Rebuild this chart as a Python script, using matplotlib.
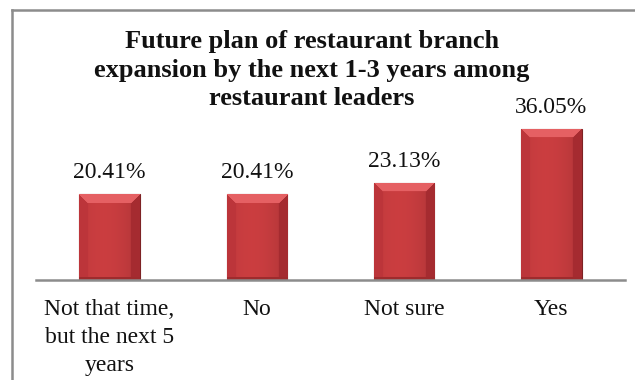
import numpy as np
import matplotlib
matplotlib.use("Agg")
import matplotlib.pyplot as plt
from matplotlib.lines import Line2D

categories = ["Not that time,\nbut the next 5\nyears", "No", "Not sure", "Yes"]
values = [20.41, 20.41, 23.13, 36.05]
value_labels = ["20.41%", "20.41%", "23.13%", "36.05%"]
title_lines = ["Future plan of restaurant branch",
               "expansion by the next 1-3 years among",
               "restaurant leaders"]

plt.rcParams["font.family"] = ["Liberation Serif", "DejaVu Serif"]

W, H = 635, 380
fig = plt.figure(figsize=(W / 100, H / 100), dpi=100)

# chart area frame (right and bottom fall outside the picture)
frame_kw = dict(color="#8c8c8c", linewidth=1.8, transform=fig.transFigure, clip_on=False)
fig.add_artist(Line2D([12 / W, 12 / W], [0, 1 - 10 / H], **frame_kw))
fig.add_artist(Line2D([12 / W, 1.0], [1 - 10 / H, 1 - 10 / H], **frame_kw))

ax_left, ax_right = 36 / W, 625 / W
ax_bottom = 1 - 280 / H
ax_h = 168 / H
ax = fig.add_axes([ax_left, ax_bottom, ax_right - ax_left, ax_h])
ax.set_xlim(-0.5, 3.5)
ax.set_ylim(0, 40)

x = np.arange(len(categories))
bars = ax.bar(x, values, width=0.41, color="#c63a3c", edgecolor="#7d2224",
              linewidth=0.8, zorder=2)

fig.canvas.draw()

# bevelled fill for each bar
for b in bars:
    x0, y0 = b.get_x(), b.get_y()
    bw, bh = b.get_width(), b.get_height()
    p0 = ax.transData.transform((x0, y0))
    p1 = ax.transData.transform((x0 + bw, y0 + bh))
    nw = max(int(round(p1[0] - p0[0])), 2)
    nh = max(int(round(p1[1] - p0[1])), 2)
    img = np.zeros((nh, nw, 3))
    cols = np.arange(nw)[None, :].repeat(nh, 0)
    rows = np.arange(nh)[:, None].repeat(nw, 1)
    base = np.array([0.79, 0.24, 0.25])
    img[:] = base
    # soft horizontal shading
    t = np.linspace(-1, 1, nw)
    shade = 1.0 - 0.10 * t ** 2 - 0.04 * t
    img *= shade[None, :, None]
    bev = 9
    left = cols < bev
    right = cols >= nw - bev
    top = (rows < bev) & (cols >= rows) & (cols < nw - rows)
    bottom = (rows >= nh - 3)
    img[left] = np.array([0.74, 0.21, 0.23])
    img[right] = np.array([0.65, 0.17, 0.19])
    img[top] = np.array([0.90, 0.38, 0.39])
    img[bottom] = np.array([0.62, 0.17, 0.18])
    im = ax.imshow(img, extent=(x0, x0 + bw, y0, y0 + bh), origin="upper",
                   aspect="auto", interpolation="bilinear", zorder=2.5)
    im.set_clip_path(b)

for b, lab in zip(bars, value_labels):
    ax.annotate(lab, (b.get_x() + b.get_width() / 2, b.get_height()),
                xytext=(0, 11.5), textcoords="offset points",
                ha="center", va="baseline", fontsize=17, color="#111111")

ax.set_xticks(x)
ax.set_xticklabels(categories, fontsize=17, color="#111111", linespacing=1.41)
ax.tick_params(axis="x", length=0, pad=14)
ax.set_yticks([])
for s in ["left", "right", "top"]:
    ax.spines[s].set_visible(False)
ax.spines["bottom"].set_color("#8c8c8c")
ax.spines["bottom"].set_linewidth(1.8)
ax.spines["bottom"].set_zorder(3)

# title, one text per line so the last line's box stays clear of 36.05%
for i, line in enumerate(title_lines):
    fig.text(312 / W, 1 - (48 + 28.5 * i) / H, line, ha="center", va="baseline",
             fontsize=19, fontweight="bold", color="#111111")

fig.savefig("out.png", dpi=100)
